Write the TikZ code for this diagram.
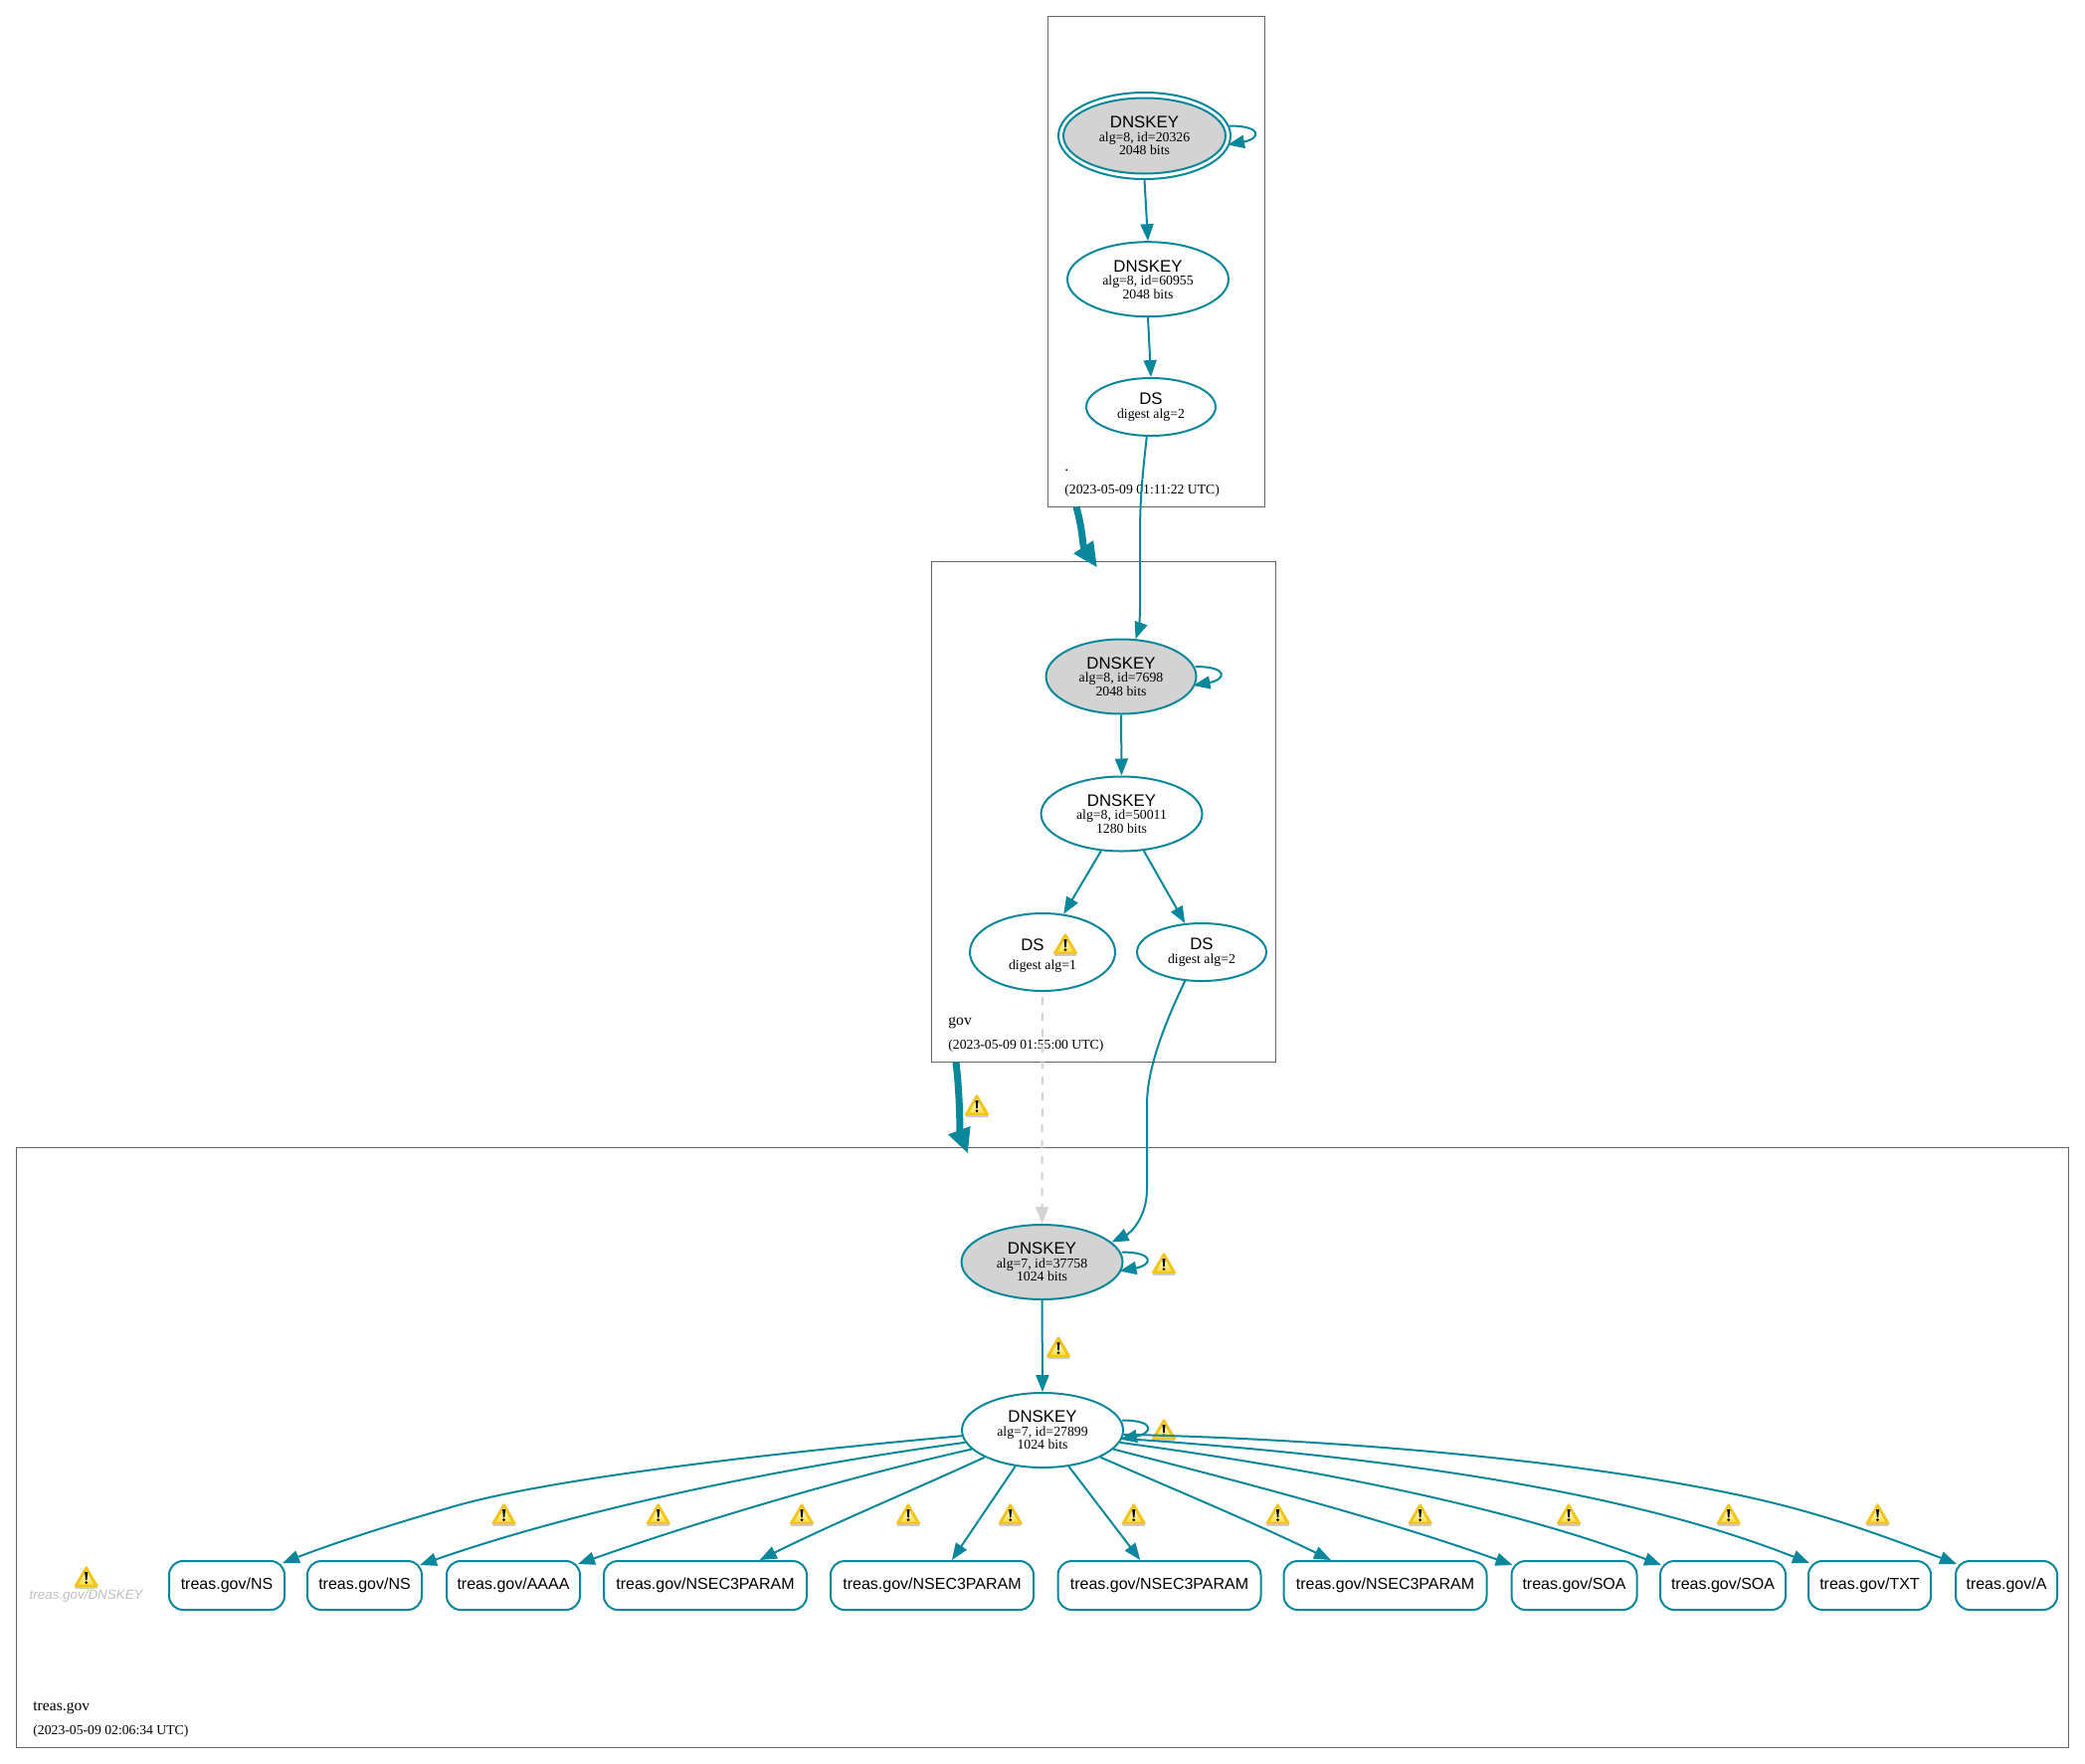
\documentclass[tikz,border=0pt]{standalone}
\usepackage{fontspec}
\setmainfont{Liberation Serif}
\setsansfont{Liberation Sans}
\usetikzlibrary{arrows.meta,shapes.geometric}
\definecolor{sigteal}{HTML}{0A879A}
\definecolor{keygray}{HTML}{D3D3D3}
\definecolor{warngold}{HTML}{F2C51E}
\definecolor{warnyellow}{HTML}{FFE03A}
\newcommand{\keyfont}{\fontsize{6.9}{6.75}\selectfont\lineskiplimit=-20pt\relax}
\tikzset{
    zonebox/.style={draw=black!60,line width=.5pt,inner sep=0pt},
    zonename/.style={anchor=base west,inner sep=0pt,font=\fontsize{7.8}{8}\selectfont},
    zonetime/.style={anchor=base west,inner sep=0pt,font=\fontsize{6.85}{7}\selectfont},
    keynode/.style={ellipse,draw=sigteal,line width=1pt,inner sep=0pt,minimum width=81pt,minimum height=37.5pt,align=center,font=\keyfont},
    dsnode/.style={keynode,minimum width=65pt,minimum height=29pt},
    recbox/.style={rectangle,rounded corners=7pt,draw=sigteal,line width=1pt,inner sep=0pt,minimum height=24.5pt,font=\sffamily\fontsize{8}{9}\selectfont},
    sigedge/.style={draw=sigteal,line width=1pt,-{Triangle[length=8.5pt,width=6.5pt]}},
    zoneedge/.style={draw=sigteal,line width=3.5pt,-{Triangle[length=12.5pt,width=11pt]}},
    warnsign/.pic={
        \draw[black!20,line width=1pt,line cap=round] (-10.5,10.6) -- (10.5,10.6);
        \filldraw[draw=warngold,fill=warngold,line width=1.2pt,line join=round] (0,-9.5) -- (10.8,9) -- (-10.8,9) -- cycle;
        \shade[top color=white,bottom color=warnyellow] (0,-6) -- (7.6,7.5) -- (-7.6,7.5) -- cycle;
        \fill[black] (-1.5,-5) -- (1.5,-5) -- (.7,3) -- (-.7,3) -- cycle;
        \fill[black] (0,5.6) circle (1.5);
    }
}
\newcommand{\keytext}[2]{{\sffamily\fontsize{8.4}{6.75}\selectfont DNSKEY}\\#1\\#2}
\newcommand{\selfloop}[1]{\draw[sigedge] ([shift={(-2,-10)}]#1.east) .. controls +(34,0) and +(33,-6) .. ([shift={(-4,9)}]#1.east);}
\begin{document}
\begin{tikzpicture}[x=.5pt,y=-.5pt]
            \useasboundingbox (0,0) rectangle (2096,1772);
            \node[zonebox,minimum width=109pt,minimum height=246.5pt] (rootzone) at (1162,262.5) {};
            \node[zonebox,minimum width=173pt,minimum height=251.5pt] (govzone) at (1109,815.5) {};
            \node[zonebox,minimum width=1031.5pt,minimum height=301.5pt] (treaszone) at (1047.5,1454.5) {};
            \node[zonename] (rootname) at (1070,473) {.};
            \node[zonetime] (roottime) at (1070,496) {(2023-05-09 01:11:22 UTC)};
            \node[zonename] (govname) at (953,1030) {gov};
            \node[zonetime] (govtime) at (953,1054) {(2023-05-09 01:55:00 UTC)};
            \node[zonename] (treasname) at (33,1719) {treas.gov};
            \node[zonetime] (treastime) at (33,1743.5) {(2023-05-09 02:06:34 UTC)};
            \pic at (982,1111) {warnsign};
            \pic at (1071,949) {warnsign};
            \pic at (1170,1270) {warnsign};
            \pic at (1064,1354) {warnsign};
            \pic at (1170,1437) {warnsign};
            \pic at (506.6,1522) {warnsign};
            \pic at (661.7,1522) {warnsign};
            \pic at (806,1522) {warnsign};
            \pic at (913,1522) {warnsign};
            \pic at (1015.7,1522) {warnsign};
            \pic at (1139.7,1522) {warnsign};
            \pic at (1284.5,1522) {warnsign};
            \pic at (1427.6,1522) {warnsign};
            \pic at (1577,1522) {warnsign};
            \pic at (1737.7,1522) {warnsign};
            \pic at (1887.5,1522) {warnsign};
            \pic at (86.7,1585) {warnsign};
            \node[keynode,minimum width=86.5pt,minimum height=43.5pt] (rootksk) at (1150.5,136.5) {};
            \node[keynode,fill=keygray,minimum width=81.5pt,minimum height=38pt] (rootkskin) at (1150.5,136.5) {\keytext{alg=8, id=20326}{2048 bits}};
            \node[keynode] (rootzsk) at (1154,280.7) {\keytext{alg=8, id=60955}{2048 bits}};
            \node[dsnode] (rootds) at (1157,409) {{\sffamily\fontsize{8.4}{7}\selectfont DS}\\[.5pt]digest alg=2};
            \node[keynode,fill=keygray,minimum width=75.5pt] (govksk) at (1127,680) {\keytext{alg=8, id=7698}{2048 bits}};
            \node[keynode] (govzsk) at (1127.5,818) {\keytext{alg=8, id=50011}{1280 bits}};
            \node[dsnode,minimum width=73pt,minimum height=39pt] (govdsone) at (1048,957) {\rule{0pt}{9.2pt}{\sffamily\fontsize{8.4}{7}\selectfont DS\hspace*{10pt}}\\[2.7pt]digest alg=1};
            \node[dsnode] (govdstwo) at (1208,957) {{\sffamily\fontsize{8.4}{7}\selectfont DS}\\[.5pt]digest alg=2};
            \node[keynode,fill=keygray] (treasksk) at (1047.5,1268.5) {\keytext{alg=7, id=37758}{1024 bits}};
            \node[keynode] (treaszsk) at (1048,1437.5) {\keytext{alg=7, id=27899}{1024 bits}};
            \node[inner sep=0pt,text=black!25,font=\sffamily\itshape\fontsize{6.7}{8}\selectfont] (treaskey) at (86.7,1604.5) {treas.gov/DNSKEY};
            \node[recbox,minimum width=58pt] (nsone) at (228,1593.5) {treas.gov/NS};
            \node[recbox,minimum width=57.5pt] (nstwo) at (366.5,1593.5) {treas.gov/NS};
            \node[recbox,minimum width=67pt] (aaaa) at (516,1593.5) {treas.gov/AAAA};
            \node[recbox,minimum width=102pt] (nsecone) at (709,1593.5) {treas.gov/NSEC3PARAM};
            \node[recbox,minimum width=102pt] (nsectwo) at (937,1593.5) {treas.gov/NSEC3PARAM};
            \node[recbox,minimum width=102pt] (nsecthree) at (1165.5,1593.5) {treas.gov/NSEC3PARAM};
            \node[recbox,minimum width=102pt] (nsecfour) at (1392.5,1593.5) {treas.gov/NSEC3PARAM};
            \node[recbox,minimum width=63pt] (soaone) at (1582.5,1593.5) {treas.gov/SOA};
            \node[recbox,minimum width=63pt] (soatwo) at (1732,1593.5) {treas.gov/SOA};
            \node[recbox,minimum width=61.5pt] (txt) at (1879.5,1593.5) {treas.gov/TXT};
            \node[recbox,minimum width=51pt] (arec) at (2017,1593.5) {treas.gov/A};
            \draw[zoneedge] ([shift={(-80,0)}]rootzone.south) .. controls (1089,535) and (1088,548) .. ([shift={(-6,7)}]govzone.north);
            \draw[zoneedge] ([shift={(-148,0)}]govzone.south) .. controls (965,1100) and (965,1138) .. ([shift={(-74.5,7)}]treaszone.north);
            \selfloop{rootksk}
            \draw[sigedge] (rootksk.south) -- (rootzsk.north);
            \draw[sigedge] (rootzsk.south) -- (rootds.north);
            \draw[sigedge] (rootds.262) .. controls (1147,490) and (1146,510) .. (1146,540) -- (1146,610) .. controls (1146,625) and (1144,635) .. (govksk.69);
            \selfloop{govksk}
            \draw[sigedge] (govksk.south) -- (govzsk.north);
            \draw[sigedge] (govzsk.241) -- (govdsone.61);
            \draw[sigedge] (govzsk.301) -- (govdstwo.120);
            \draw[sigedge,draw=keygray,dash pattern=on 4pt off 4pt,shorten <=2.5pt] (govdsone.south) -- (treasksk.north);
            \draw[sigedge] (govdstwo.240) .. controls (1170,1030) and (1153,1075) .. (1153,1110) -- (1153,1195) .. controls (1153,1225) and (1135,1240) .. (treasksk.16.5);
            \selfloop{treasksk}
            \draw[sigedge] (treasksk.south) -- (treaszsk.north);
            \selfloop{treaszsk}
            \draw[sigedge] (treaszsk.184) .. controls (780,1460) and (560,1485) .. (460,1513) .. controls (390,1533) and (330,1553) .. ([shift={(-3,3)}]nsone.north east);
            \draw[sigedge] (treaszsk.189) .. controls (820,1470) and (603,1510) .. ([shift={(-3,5)}]nstwo.north east);
            \draw[sigedge] (treaszsk.195) .. controls (850,1485) and (700,1530) .. ([shift={(-3,4)}]aaaa.north east);
            \draw[sigedge] (treaszsk.205) .. controls (920,1497) and (840,1530) .. (nsecone.25.7);
            \draw[sigedge] (treaszsk.233.5) -- (nsectwo.52.2);
            \draw[sigedge] (treaszsk.306.5) -- (nsecthree.127);
            \draw[sigedge] (treaszsk.335) .. controls (1180,1497) and (1260,1530) .. (nsecfour.155.4);
            \draw[sigedge] (treaszsk.345) .. controls (1270,1495) and (1400,1530) .. ([shift={(2,5)}]soaone.north west);
            \draw[sigedge] (treaszsk.351) .. controls (1350,1480) and (1530,1520) .. ([shift={(2,5)}]soatwo.north west);
            \draw[sigedge] (treaszsk.354) .. controls (1400,1464) and (1640,1500) .. ([shift={(2,3)}]txt.north west);
            \draw[sigedge] (treaszsk.357) .. controls (1400,1448) and (1640,1476) .. (1780,1510) .. controls (1850,1527) and (1910,1550) .. ([shift={(2,4)}]arec.north west);
        \end{tikzpicture}
\end{document}
